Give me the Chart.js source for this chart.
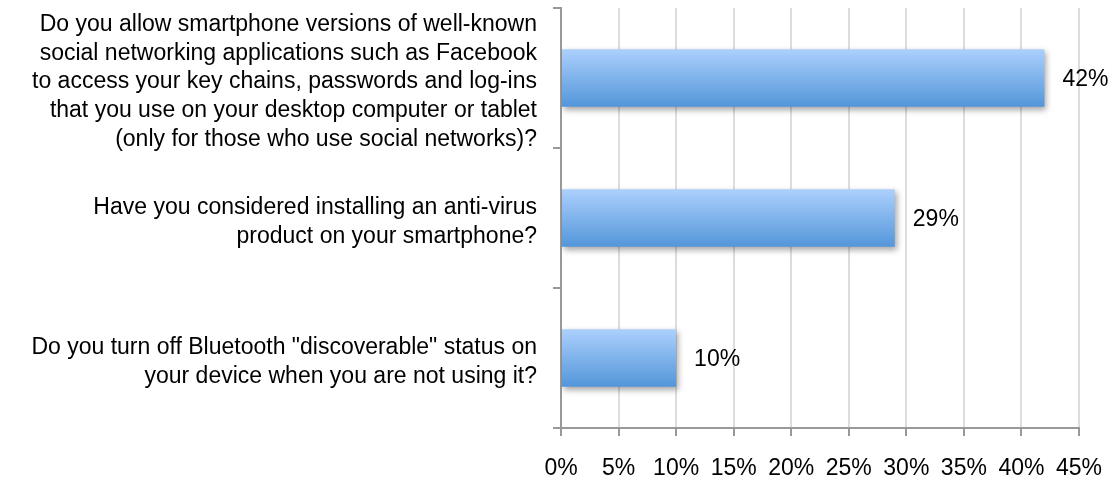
<!DOCTYPE html>
<html>
<head>
<meta charset="utf-8">
<script src="https://cdn.jsdelivr.net/npm/chart.js@4/dist/chart.umd.min.js"></script>
<style>
  html, body { margin: 0; padding: 0; background: #ffffff; }
  #wrap { width: 1117px; height: 482px; position: relative; }
</style>
</head>
<body>
<div id="wrap"><canvas id="c"></canvas></div>
<script>
// Survey questions (one array entry per line of the wrapped label)
const questions = [
  ["Do you allow smartphone versions of well-known",
   "social networking applications such as Facebook",
   "to access your key chains, passwords and log-ins",
   "that you use on your desktop computer or tablet",
   "(only for those who use social networks)?"],
  ["Have you considered installing an anti-virus",
   "product on your smartphone?"],
  ["Do you turn off Bluetooth \"discoverable\" status on",
   "your device when you are not using it?"]
];
// Share of respondents answering yes, in percent
const yesShare = [42, 29, 10];
// Percent axis range and step
const axisMin = 0;
const axisMax = 45;
const axisStep = 5;

const FONT = "'Liberation Sans', Arial, Helvetica, sans-serif";
const BAR_PCT = 0.41;

// Vertical gradient per bar, light blue on top to deeper blue at the bottom
function barFill(context) {
  const chart = context.chart;
  const yScale = chart.scales && chart.scales.y;
  if (!yScale || !chart.chartArea || isNaN(yScale.top)) return '#7fb2ea';
  const center = yScale.getPixelForValue(context.dataIndex);
  const band = (yScale.bottom - yScale.top) / chart.data.labels.length;
  const half = band * BAR_PCT / 2;
  const g = chart.ctx.createLinearGradient(0, center - half, 0, center + half);
  g.addColorStop(0, '#acd0fd');
  g.addColorStop(1, '#5396da');
  return g;
}

// Soft drop shadow underneath the bars
const barShadow = {
  id: 'barShadow',
  beforeDatasetDraw(chart) {
    const ctx = chart.ctx;
    ctx.save();
    ctx.shadowColor = 'rgba(0,0,0,0.35)';
    ctx.shadowBlur = 6;
    ctx.shadowOffsetX = 2;
    ctx.shadowOffsetY = 3;
  },
  afterDatasetDraw(chart) {
    chart.ctx.restore();
  }
};

// Percentage written to the right of each bar
const valueLabels = {
  id: 'valueLabels',
  afterDatasetsDraw(chart) {
    const ctx = chart.ctx;
    const meta = chart.getDatasetMeta(0);
    const data = chart.data.datasets[0].data;
    ctx.save();
    ctx.font = '23px ' + FONT;
    ctx.fillStyle = '#000000';
    ctx.textAlign = 'left';
    ctx.textBaseline = 'middle';
    meta.data.forEach((bar, i) => {
      ctx.fillText(data[i] + '%', bar.x + 18, bar.y + 2);
    });
    ctx.restore();
  }
};

new Chart(document.getElementById('c'), {
  type: 'bar',
  data: {
    labels: questions,
    datasets: [{
      data: yesShare,
      backgroundColor: barFill,
      borderWidth: 0,
      barPercentage: BAR_PCT,
      categoryPercentage: 1.0
    }]
  },
  options: {
    indexAxis: 'y',
    responsive: true,
    maintainAspectRatio: false,
    animation: false,
    layout: { padding: { top: 8, right: 38, left: 0, bottom: 0 } },
    plugins: {
      legend: { display: false },
      tooltip: { enabled: false }
    },
    scales: {
      x: {
        min: axisMin,
        max: axisMax,
        afterFit(scale) {
          scale.height = 54;
          scale.paddingLeft = 0;
          scale.paddingRight = 0;
        },
        ticks: {
          stepSize: axisStep,
          color: '#000000',
          font: { family: FONT, size: 23 },
          padding: 19,
          maxRotation: 0,
          autoSkip: false,
          callback: (v) => v + '%'
        },
        grid: {
          color: '#dddddd',
          lineWidth: 2,
          tickColor: '#999999',
          tickLength: 8,
          drawTicks: true
        },
        border: { color: '#999999', width: 2 }
      },
      y: {
        afterFit(scale) {
          scale.width = 561;
          scale.paddingTop = 0;
          scale.paddingBottom = 0;
        },
        ticks: {
          color: '#000000',
          font: { family: FONT, size: 23, lineHeight: 1.25 },
          padding: 16,
          labelOffset: 4,
          autoSkip: false
        },
        grid: {
          drawOnChartArea: false,
          drawTicks: true,
          tickLength: 8,
          tickColor: '#999999',
          lineWidth: 2,
          offset: true
        },
        border: { color: '#999999', width: 2 }
      }
    }
  },
  plugins: [barShadow, valueLabels]
});
</script>
</body>
</html>
